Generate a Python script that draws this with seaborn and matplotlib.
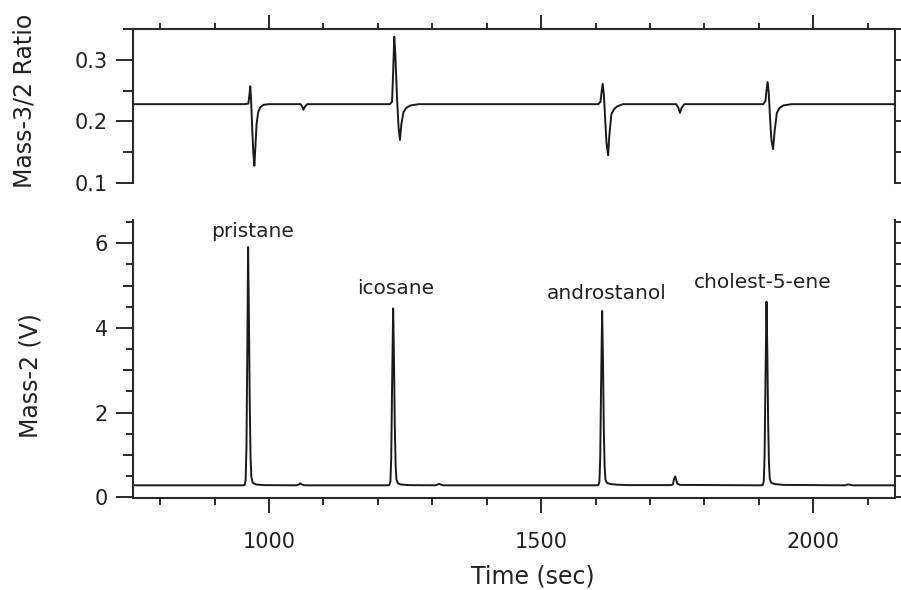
import matplotlib
matplotlib.use("Agg")
import matplotlib.pyplot as plt
from matplotlib.ticker import MultipleLocator, NullFormatter
import pandas as pd
import seaborn as sns

sns.set_style("ticks")
plt.rcParams["font.family"] = ["DejaVu Sans"]

INK = "#1a1a1a"
AX = "#2a2a2a"

# Mass-3/2 ratio trace: time (s) and ratio
ratio_time = [750, 800, 900, 955, 962, 964, 965.5, 967, 969, 971, 973, 975, 977, 980, 984,
              990, 1000, 1058, 1061, 1063, 1066, 1070, 1150, 1222, 1226, 1228, 1230, 1232,
              1235, 1238, 1240.5, 1243, 1247, 1252, 1260, 1275, 1400, 1500, 1605, 1609,
              1611, 1613, 1615, 1617.5, 1620, 1623, 1625, 1629, 1634, 1639, 1650, 1700,
              1748, 1752, 1755, 1758, 1763, 1850, 1908, 1912, 1914, 1916, 1918, 1920.5,
              1923, 1926, 1929, 1933, 1938, 1945, 1960, 2050, 2150]
ratio_value = [0.228, 0.228, 0.228, 0.228, 0.229, 0.243, 0.257, 0.235, 0.190, 0.150, 0.128,
               0.160, 0.195, 0.215, 0.223, 0.227, 0.228, 0.228, 0.224, 0.219, 0.224, 0.228,
               0.228, 0.228, 0.232, 0.280, 0.3375, 0.310, 0.240, 0.190, 0.170, 0.195, 0.215,
               0.222, 0.226, 0.228, 0.228, 0.228, 0.228, 0.232, 0.248, 0.261, 0.245, 0.205,
               0.165, 0.145, 0.175, 0.212, 0.220, 0.224, 0.228, 0.228, 0.228, 0.222, 0.214,
               0.222, 0.228, 0.228, 0.228, 0.233, 0.250, 0.264, 0.248, 0.205, 0.170, 0.155,
               0.185, 0.214, 0.222, 0.226, 0.228, 0.228, 0.228]

# Mass-2 signal trace: time (s) and volts
mass2_time = [750, 900, 950, 955, 957, 958.5, 960, 961.5, 963, 964.5, 966, 967.5, 970, 976,
              990, 1050, 1055, 1057, 1060, 1066, 1216, 1221, 1223, 1224.5, 1226, 1228,
              1229.5, 1231, 1232.5, 1234, 1236.5, 1242, 1256, 1305, 1310, 1312, 1315, 1320,
              1600, 1605, 1607, 1608.5, 1610, 1612, 1613.5, 1615, 1616.5, 1618, 1620.5,
              1627, 1640, 1660, 1738, 1742, 1744, 1746, 1748, 1750, 1755, 1902, 1907, 1909,
              1910.5, 1912, 1914, 1915.5, 1917, 1918.5, 1920, 1922.5, 1929, 1945, 2058,
              2062, 2064, 2067, 2072, 2150]
mass2_volts = [0.28, 0.28, 0.28, 0.285, 0.40, 1.20, 3.40, 5.91, 4.30, 2.20, 0.95, 0.48,
               0.34, 0.30, 0.285, 0.28, 0.30, 0.33, 0.30, 0.28, 0.28, 0.285, 0.37, 0.95,
               2.60, 4.46, 3.30, 1.70, 0.78, 0.42, 0.33, 0.30, 0.285, 0.28, 0.30, 0.315,
               0.30, 0.28, 0.28, 0.285, 0.37, 0.95, 2.60, 4.40, 3.25, 1.65, 0.75, 0.42,
               0.34, 0.31, 0.295, 0.285, 0.285, 0.30, 0.42, 0.49, 0.42, 0.32, 0.29, 0.28,
               0.285, 0.38, 1.00, 2.70, 4.62, 3.40, 1.75, 0.80, 0.43, 0.34, 0.31, 0.29,
               0.28, 0.295, 0.30, 0.295, 0.28, 0.28]

# Compound names and label anchor positions (time, volts)
compounds = ["pristane", "icosane", "androstanol", "cholest-5-ene"]
label_time = [970, 1233, 1621, 1907]
label_volts = [6.29, 4.92, 4.82, 5.08]

ratio_df = pd.DataFrame({"time": ratio_time, "ratio": ratio_value})
mass2_df = pd.DataFrame({"time": mass2_time, "volts": mass2_volts})

fig = plt.figure(figsize=(9.01, 5.90), dpi=100)
ax_r = fig.add_axes([0.1476, 0.6898, 0.8457, 0.2610])
ax_m = fig.add_axes([0.1476, 0.1559, 0.8457, 0.4712])

sns.lineplot(data=ratio_df, x="time", y="ratio", ax=ax_r, color=INK, lw=1.4,
             estimator=None, sort=False)
sns.lineplot(data=mass2_df, x="time", y="volts", ax=ax_m, color=INK, lw=1.4,
             estimator=None, sort=False)

SPINE_W = 1.5
TICK_W = 1.4

# --- upper panel: ratio ---
ax_r.set_xlim(750, 2150)
ax_r.set_ylim(0.1, 0.35)
ax_r.spines["bottom"].set_visible(False)
ax_r.spines["right"].set_visible(False)
for s in ("left", "top"):
    ax_r.spines[s].set_linewidth(SPINE_W)
    ax_r.spines[s].set_color(AX)
ax_r.xaxis.tick_top()
ax_r.xaxis.set_major_locator(MultipleLocator(500))
ax_r.xaxis.set_minor_locator(MultipleLocator(100))
ax_r.xaxis.set_major_formatter(NullFormatter())
ax_r.tick_params(axis="x", which="major", direction="out", length=10, width=TICK_W,
                 color=AX, labeltop=False, labelbottom=False)
ax_r.tick_params(axis="x", which="minor", direction="out", length=4.3, width=TICK_W, color=AX)
ax_r.yaxis.set_major_locator(MultipleLocator(0.1))
ax_r.yaxis.set_minor_locator(MultipleLocator(0.05))
ax_r.set_yticks([0.1, 0.2, 0.3])
ax_r.set_yticklabels(["0.1", "0.2", "0.3"])
ax_r.tick_params(axis="y", which="major", direction="out", length=12.5, width=TICK_W,
                 color=AX, labelsize=15, labelcolor="#222222", pad=5.8, right=False)
ax_r.tick_params(axis="y", which="minor", direction="out", length=7, width=TICK_W,
                 color=AX, right=False)
ax_r.set_xlabel("")
ax_r.set_ylabel("Mass-3/2 Ratio", fontsize=17, color="#222222")
ax_r.yaxis.label.set_va("center")
ax_r.yaxis.set_label_coords(-0.143, 0.532)

sec_r = ax_r.secondary_yaxis("right")
sec_r.set_yticks([0.1, 0.15, 0.2, 0.25, 0.3, 0.35])
sec_r.tick_params(axis="y", direction="out", length=4.3, width=TICK_W, color=AX,
                  labelright=False)
sec_r.spines["right"].set_linewidth(SPINE_W)
sec_r.spines["right"].set_color(AX)

# --- lower panel: mass-2 signal ---
ax_m.set_xlim(750, 2150)
ax_m.set_ylim(-0.02, 6.55)
ax_m.spines["top"].set_visible(False)
ax_m.spines["right"].set_visible(False)
for s in ("left", "bottom"):
    ax_m.spines[s].set_linewidth(SPINE_W)
    ax_m.spines[s].set_color(AX)
ax_m.xaxis.set_major_locator(MultipleLocator(500))
ax_m.xaxis.set_minor_locator(MultipleLocator(100))
ax_m.set_xticks([1000, 1500, 2000])
ax_m.set_xticklabels(["1000", "1500", "2000"])
ax_m.tick_params(axis="x", which="major", direction="out", length=11, width=TICK_W,
                 color=AX, labelsize=15, labelcolor="#222222", pad=13.5)
ax_m.tick_params(axis="x", which="minor", direction="out", length=4.8, width=TICK_W, color=AX)
ax_m.set_yticks([0, 2, 4, 6])
ax_m.set_yticklabels(["0", "2", "4", "6"])
ax_m.yaxis.set_minor_locator(MultipleLocator(0.5))
ax_m.tick_params(axis="y", which="major", direction="out", length=12.2, width=TICK_W,
                 color=AX, labelsize=15, labelcolor="#222222", pad=5.8, right=False)
ax_m.tick_params(axis="y", which="minor", direction="out", length=5, width=TICK_W,
                 color=AX, right=False)

mid_m = ax_m.secondary_yaxis("left")
mid_m.set_yticks([1, 3, 5])
mid_m.tick_params(axis="y", direction="out", length=7, width=TICK_W, color=AX,
                  labelleft=False)
mid_m.spines["left"].set_visible(False)

sec_m = ax_m.secondary_yaxis("right")
sec_m.set_yticks([0.5 * k for k in range(14)])
sec_m.tick_params(axis="y", direction="out", length=4.3, width=TICK_W, color=AX,
                  labelright=False)
sec_m.spines["right"].set_linewidth(SPINE_W)
sec_m.spines["right"].set_color(AX)

ax_m.set_xlabel("Time (sec)", fontsize=17, color="#222222")
ax_m.xaxis.label.set_va("center")
ax_m.xaxis.set_label_coords(0.525, -0.284)
ax_m.set_ylabel("Mass-2 (V)", fontsize=17, color="#222222")
ax_m.yaxis.label.set_va("center")
ax_m.yaxis.set_label_coords(-0.134, 0.442)

for name, t, v in zip(compounds, label_time, label_volts):
    ax_m.text(t, v, name, ha="center", va="center", fontsize=14.5, color="#222222")

fig.savefig("out.png", dpi=100)
